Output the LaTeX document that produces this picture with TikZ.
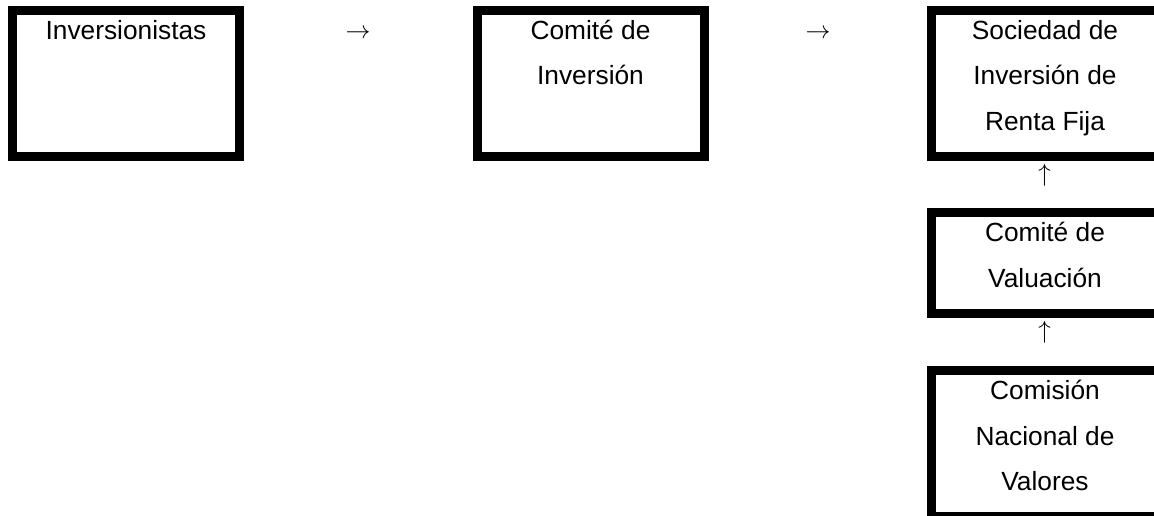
\documentclass[tikz,border=0pt]{standalone}
\usepackage{fontspec}
\setmainfont{Liberation Sans}
\usetikzlibrary{calc}
\begin{document}
\begin{tikzpicture}[x=1pt,y=-1pt,
  boxnode/.style={draw=black, line width=9pt, minimum width=227pt, minimum height=146pt, inner sep=0pt},
  shortbox/.style={boxnode, minimum height=100.7pt},
  lbl/.style={inner sep=0pt, anchor=base, align=center, font=\fontsize{26.3}{45.5}\selectfont},
  glyph/.style={inner sep=0pt, font=\fontsize{26}{30}\selectfont}]
\useasboundingbox (0,0) rectangle (1154,516);
\clip (0,0) rectangle (1154,516);
\node[boxnode] (b1) at (126,83.5) {};
\node[boxnode] (b2) at (590.5,83.5) {};
\node[boxnode] (b3) at (1045,83.5) {};
\node[shortbox] (b4) at (1045,263.2) {};
\node[boxnode] (b5) at (1045,443.5) {};
% base anchor = baseline of the last line; north anchor = outer edge of the border
\node[lbl] (t1) at ($(b1.north)+(0,33.5)$) {Inversionistas};
\node[lbl] (t2) at ($(b2.north)+(0,79)$) {Comité de\\Inversión};
\node[lbl] (t3) at ($(b3.north)+(0,124.5)$) {Sociedad de\\Inversión de\\Renta Fija};
\node[lbl] (t4) at ($(b4.north)+(0,79)$) {Comité de\\Valuación};
\node[lbl] (t5) at ($(b5.north)+(0,124.5)$) {Comisión\\Nacional de\\Valores};
\node[glyph] (a1) at (358,34) {$\rightarrow$};
\node[glyph] (a2) at (818,34) {$\rightarrow$};
\node[glyph] (a3) at (1044.5,175) {$\uparrow$};
\node[glyph] (a4) at (1044.5,332.5) {$\uparrow$};
\end{tikzpicture}
\end{document}
